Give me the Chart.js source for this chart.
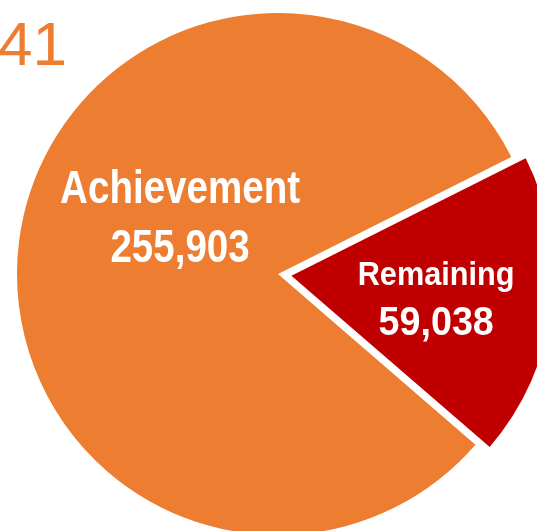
<!DOCTYPE html>
<html>
<head>
<meta charset="utf-8">
<script src="https://cdn.jsdelivr.net/npm/chart.js@4/dist/chart.umd.min.js"></script>
<style>
  html, body { margin: 0; padding: 0; background: #fff; overflow: hidden; }
  #wrap { position: absolute; left: 0; top: 0; width: 537px; height: 531px; overflow: hidden; }
</style>
</head>
<body>
<div id="wrap"><canvas id="pie" width="556" height="548"></canvas></div>
<script>
// chart data
const categories = ["Achievement", "Remaining"];
const values = [255903, 59038];
const sliceColors = ["#ED7D31", "#C00000"];
const headerText = "41";

// where the labels sit inside each slice (angle shift from slice middle, share of radius)
const labelPlace = [
    { turn: 23.5, frac: 0.436, name: { size: 47, sx: 0.82, dy: -12.7 }, value: { size: 47, sx: 0.82, dy: 45.7 } },
    { turn: 1.6,  frac: 0.613, name: { size: 33, sx: 0.93, dy: -13.3 }, value: { size: 41, sx: 0.92, dy: 36.7 } }
];

function drawSqueezed(ctx, text, x, y, size, sx) {
    ctx.save();
    ctx.font = "bold " + size + "px 'Liberation Sans', Arial, sans-serif";
    ctx.translate(x, y);
    ctx.scale(sx, 1);
    ctx.textAlign = "center";
    ctx.textBaseline = "alphabetic";
    ctx.fillText(text, 0, 0);
    ctx.restore();
}

const sliceLabels = {
    id: "sliceLabels",
    afterDatasetsDraw(chart) {
        const ctx = chart.ctx;
        const arcs = chart.getDatasetMeta(0).data;
        arcs.forEach((arc, i) => {
            const p = arc.getProps(["x", "y", "startAngle", "endAngle", "outerRadius"], true);
            const place = labelPlace[i];
            const a = (p.startAngle + p.endAngle) / 2 + place.turn * Math.PI / 180;
            const r = p.outerRadius * place.frac;
            const cx = p.x + Math.cos(a) * r;
            const cy = p.y + Math.sin(a) * r;
            ctx.fillStyle = "#ffffff";
            drawSqueezed(ctx, categories[i], cx, cy + place.name.dy, place.name.size, place.name.sx);
            drawSqueezed(ctx, values[i].toLocaleString("en-US"), cx, cy + place.value.dy, place.value.size, place.value.sx);
        });
        // cut-off header number in the corner
        ctx.save();
        ctx.font = "62px 'Liberation Sans', Arial, sans-serif";
        ctx.fillStyle = "#ED7D31";
        ctx.textAlign = "left";
        ctx.textBaseline = "alphabetic";
        ctx.fillText(headerText, -2, 65);
        ctx.restore();
    }
};

new Chart(document.getElementById("pie").getContext("2d"), {
    type: "pie",
    data: {
        labels: categories,
        datasets: [{
            data: values,
            backgroundColor: sliceColors,
            borderWidth: 0,
            offset: [0, 54]
        }]
    },
    options: {
        responsive: false,
        animation: false,
        events: [],
        rotation: 130.85,
        radius: 261,
        layout: { padding: 0 },
        plugins: {
            legend: { display: false },
            tooltip: { enabled: false },
            title: { display: false }
        }
    },
    plugins: [sliceLabels]
});
</script>
</body>
</html>
